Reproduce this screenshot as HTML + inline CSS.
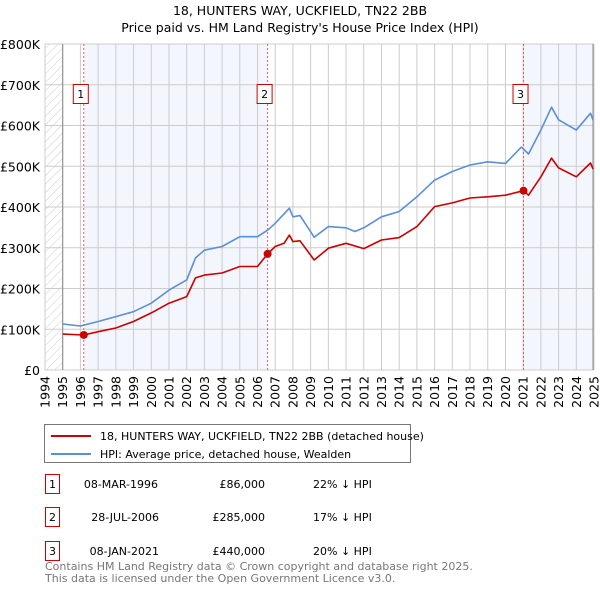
<!DOCTYPE html>
<html><head><meta charset="utf-8"><style>
body{margin:0;background:#fff;width:600px;height:590px;overflow:hidden;font-family:"Liberation Sans","DejaVu Sans",sans-serif;}
text{font-family:"DejaVu Sans","Liberation Sans",sans-serif;}
</style></head><body>
<svg width="600" height="590" id="svg">
<text x="300" y="15" text-anchor="middle" font-size="12.5">18, HUNTERS WAY, UCKFIELD, TN22 2BB</text>
<text x="300" y="32" text-anchor="middle" font-size="12.5">Price paid vs. HM Land Registry's House Price Index (HPI)</text>
<defs><pattern id="hatch" width="6" height="6" patternUnits="userSpaceOnUse" patternTransform="rotate(45)"><line x1="0" y1="0" x2="0" y2="6" stroke="#ccc" stroke-width="1"/></pattern></defs>
<g id="plot"></g>
<g>
<rect x="44.5" y="424.5" width="366" height="38" fill="#fff" stroke="#777"/>
<line x1="51" y1="436" x2="91" y2="436" stroke="#cc0000" stroke-width="2"/>
<text x="100" y="440" font-size="11">18, HUNTERS WAY, UCKFIELD, TN22 2BB (detached house)</text>
<line x1="51" y1="454" x2="91" y2="454" stroke="#5b8fd6" stroke-width="2"/>
<text x="100" y="458" font-size="11">HPI: Average price, detached house, Wealden</text>
</g>
<g font-size="11">
<rect x="45.5" y="474.5" width="14" height="19" fill="#fff" stroke="#cc0000"/><text x="52.5" y="488" text-anchor="middle">1</text>
<text x="158" y="488" text-anchor="end">08-MAR-1996</text><text x="265" y="488" text-anchor="end">£86,000</text><text x="313" y="488">22% ↓ HPI</text>
<rect x="45.5" y="507.5" width="14" height="19" fill="#fff" stroke="#cc0000"/><text x="52.5" y="521" text-anchor="middle">2</text>
<text x="159" y="521" text-anchor="end">28-JUL-2006</text><text x="265" y="521" text-anchor="end">£285,000</text><text x="313" y="521">17% ↓ HPI</text>
<rect x="45.5" y="541.5" width="14" height="19" fill="#fff" stroke="#cc0000"/><text x="52.5" y="555" text-anchor="middle">3</text>
<text x="159" y="555" text-anchor="end">08-JAN-2021</text><text x="265" y="555" text-anchor="end">£440,000</text><text x="313" y="555">20% ↓ HPI</text>
</g>
<text x="45" y="570" font-size="11" fill="#777">Contains HM Land Registry data © Crown copyright and database right 2025.</text>
<text x="45" y="582" font-size="11" fill="#777">This data is licensed under the Open Government Licence v3.0.</text>
</svg>
<script>
const hpiYears=[1995,1996,1997,1998,1999,2000,2001,2002,2002.5,2003,2004,2005,2006,2006.6,2007,2007.8,2008,2008.4,2009.2,2010,2011,2011.5,2012,2013,2014,2015,2016,2017,2018,2019,2020,2020.9,2021.3,2022,2022.6,2023,2024,2024.8,2024.95];
const hpiValues=[113,108,119,131,143,164,196,221,275,294,303,327,327,344,360,397,376,379,326,352,349,340,349,376,389,425,466,487,503,511,507,547,530,589,645,614,589,630,613];
const ppYears=[1995,1996.19,1997,1998,1999,2000,2001,2002,2002.5,2003,2004,2005,2006,2006.57,2007,2007.5,2007.8,2008,2008.4,2009.2,2010,2011,2012,2013,2014,2015,2016,2017,2018,2019,2020,2021.02,2021.3,2022,2022.6,2023,2024,2024.8,2024.95];
const ppValues=[88,86,94,103,119,140,164,180,226,233,238,254,254,285,303,311,331,315,317,270,299,311,298,319,325,352,401,410,422,425,429,440,429,474,520,496,474,508,493];
const saleYears=[1996.19,2006.57,2021.02];
const saleValues=[86,285,440];
const saleLabels=["1","2","3"];
const yTicks=[0,100,200,300,400,500,600,700,800];
const yTickLabels=["£0","£100K","£200K","£300K","£400K","£500K","£600K","£700K","£800K"];
const xTicks=[1994,1995,1996,1997,1998,1999,2000,2001,2002,2003,2004,2005,2006,2007,2008,2009,2010,2011,2012,2013,2014,2015,2016,2017,2018,2019,2020,2021,2022,2023,2024,2025];
const X0=45,X1=594,Y0=370,Y1=44;
const xs=y=>X0+(y-1994)/31*(X1-X0);
const ys=v=>Y0-v/800*(Y0-Y1);
const NS="http://www.w3.org/2000/svg";
const g=document.getElementById('plot');
function mk(t,a,p){const e=document.createElementNS(NS,t);for(const k in a)e.setAttribute(k,a[k]);(p||g).appendChild(e);return e;}
let e;
e=mk('rect',{x:xs(1996.19),y:Y1,width:xs(2006.57)-xs(1996.19),height:Y0-Y1,fill:'#f3f6fd'});


e=mk('rect',{x:xs(2021.02),y:Y1,width:X1-xs(2021.02),height:Y0-Y1,fill:'#f3f6fd'});


e=mk('rect',{x:X0,y:Y1,width:xs(1995)-X0,height:Y0-Y1,fill:'url(#hatch)'});


yTicks.forEach((v,i)=>{
 e=mk('line',{x1:X0,x2:X1,y1:ys(v),y2:ys(v),stroke:'#ccc'});
 
 
 e=mk('text',{x:40,y:ys(v)+5,'text-anchor':'end','font-size':'12.5'});
 e.textContent=yTickLabels[i];
 
 
});
xTicks.forEach(y=>{
 e=mk('line',{x1:xs(y),x2:xs(y),y1:Y1,y2:Y0,stroke:'#ccc'});
 
 
 e=mk('text',{x:0,y:0,'font-size':'12.5','text-anchor':'end',transform:`translate(${xs(y)+4.5},376) rotate(-90)`});
 e.textContent=y;
 
 
});
e=mk('line',{x1:xs(1995),x2:xs(1995),y1:Y1,y2:Y0,stroke:'#888'});


e=mk('line',{x1:X1-1,x2:X1-1,y1:Y1,y2:Y0,stroke:'#888'});


saleYears.forEach((y,i)=>{
 e=mk('line',{x1:xs(y),x2:xs(y),y1:Y1,y2:Y0,stroke:'#e06060','stroke-dasharray':'2,2'});
 
 
});
function path(xa,va,col,name){
 const d=xa.map((y,i)=>(i?'L':'M')+xs(y).toFixed(1)+','+ys(va[i]).toFixed(1)).join('');
 e=mk('path',{d:d,fill:'none',stroke:col,'stroke-width':1.6,'stroke-linejoin':'round'});
 
 
}
path(hpiYears,hpiValues,'#5b8fd6','hpi-line');
path(ppYears,ppValues,'#cc0000','price-paid-line');
saleYears.forEach((y,i)=>{
 e=mk('circle',{cx:xs(y),cy:ys(saleValues[i]),r:4,fill:'#cc0000'});
 
 
 const bx=xs(y)-3;
 e=mk('rect',{x:bx-7.5,y:84.5,width:15,height:19,fill:'#fff',stroke:'#cc0000'});
 
 
 e=mk('text',{x:bx,y:98,'text-anchor':'middle','font-size':'11'});
 e.textContent=saleLabels[i];
 
 
});
</script>
</body></html>
